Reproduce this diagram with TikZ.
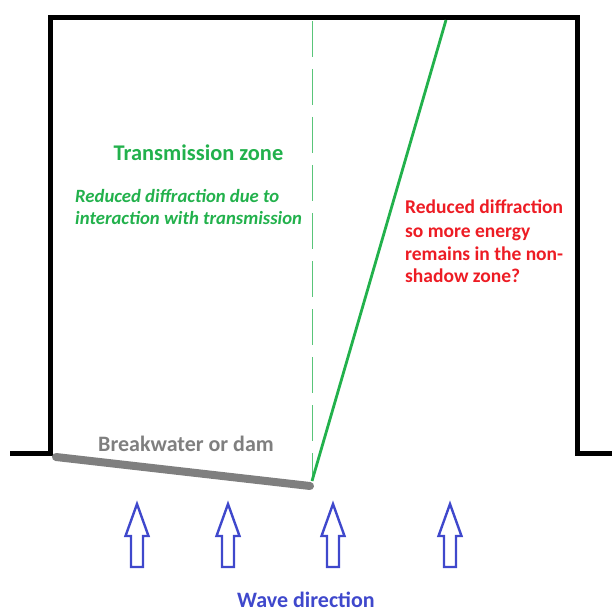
\documentclass[tikz,border=0pt]{standalone}
\usepackage{fontspec}
\setmainfont{Carlito}
\definecolor{pgreen}{HTML}{22B14C}
\definecolor{pred}{HTML}{ED1C24}
\definecolor{pblue}{HTML}{3F48CC}
\definecolor{pgray}{HTML}{7F7F7F}
\tikzset{
  wall/.style={line width=5pt, line join=miter},
  bw/.style={line width=8pt, pgray, line cap=round},
  wavearrow/.style={draw=pblue, line width=2.4pt, line join=miter},
  lbl/.style={inner sep=0pt, anchor=base west},
  gi/.style={lbl, pgreen, font=\bfseries\itshape\fontsize{18.7}{20}\selectfont},
  rr/.style={lbl, pred, font=\bfseries\fontsize{19.5}{20}\selectfont},
}
\begin{document}
\begin{tikzpicture}[x=1pt,y=-1pt]
\useasboundingbox (0,0) rectangle (612,612);
% walls
\draw[wall] (10,453) -- (50,453) -- (50,18) -- (577,18) -- (577,453) -- (612,453);
% dashed centre line
\coordinate (dtop) at (312,21);
\coordinate (dbot) at (312,478);
\draw[pgreen!75, line width=1pt, dash pattern=on 36pt off 12pt] (dtop) -- (dbot);
% breakwater
\coordinate (bwl) at (56,457);
\coordinate (bwr) at (310,486);
\draw[bw] (bwl) -- (bwr);
% green line
\coordinate (gtop) at (446,20);
\coordinate (gbot) at (312,481);
\draw[pgreen, line width=2.8pt] (gbot) -- (gtop);
% wave arrows
\foreach \x/\n in {137/a1,228/a2,333/a3,450/a4}{
  \draw[wavearrow] (\x-6,567) -- (\x-6,536) -- (\x-11.5,536) -- (\x,504) -- (\x+11.5,536) -- (\x+6,536) -- (\x+6,567) -- cycle;
}
% labels
\node[lbl, pgreen, anchor=base, font=\bfseries\fontsize{22.4}{24}\selectfont] (tz) at (198.5,161) {Transmission zone};
\node[gi] (rd1) at (75,203) {Reduced diffraction due to};
\node[gi] (rd2) at (75,224) {interaction with transmission};
\node[rr] (rn1) at (405,214) {Reduced diffraction};
\node[rr] (rn2) at (405,237) {so more energy};
\node[rr] (rn3) at (405,260) {remains in the non-};
\node[rr] (rn4) at (405,282) {shadow zone?};
\node[lbl, pgray, anchor=base, font=\bfseries\fontsize{22}{24}\selectfont] (bwt) at (186,451) {Breakwater or dam};
\node[lbl, pblue, anchor=base, font=\bfseries\fontsize{22}{24}\selectfont] (wd) at (306,607) {Wave direction};
\end{tikzpicture}
\end{document}
